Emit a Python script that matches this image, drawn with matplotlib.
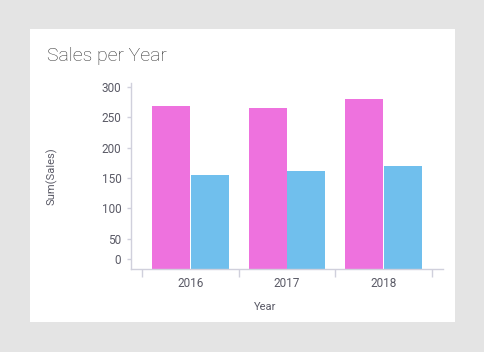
import matplotlib
matplotlib.use("Agg")
import matplotlib.pyplot as plt
import numpy as np
from matplotlib.patches import Rectangle
from matplotlib.transforms import ScaledTranslation

plt.rcParams['font.family'] = ['Roboto', 'DejaVu Sans']

years = ['2016', '2017', '2018']
sales_a = [268, 266, 280]   # pink series
sales_b = [155, 162, 169]   # blue series
yticks = [0, 50, 100, 150, 200, 250, 300]

pink = '#ee72de'
blue = '#70bfed'
axis_col = '#d0d0dc'
text_col = '#5a5a66'

fig = plt.figure(figsize=(4.85, 3.52), dpi=100)
fig.patch.set_facecolor('#e4e4e4')
fig.patches.append(Rectangle((30/485, 1-322/352), 425/485, 293/352,
                             transform=fig.transFigure, facecolor='white',
                             edgecolor='none', zorder=-5))

ax = fig.add_axes([131/485, 1-269/352, 312/485, 186/352])
ax.set_facecolor('none')

x = np.arange(len(years))
w = 0.39
ax.bar(x - 0.2, sales_a, width=w, color=pink, zorder=2)
ax.bar(x + 0.2, sales_b, width=w, color=blue, zorder=2)

ax.set_xlim(-0.614, 2.614)
ax.set_ylim(0, 306.6)

for s in ['top', 'right']:
    ax.spines[s].set_visible(False)
for s in ['left', 'bottom']:
    ax.spines[s].set_color(axis_col)
    ax.spines[s].set_linewidth(1)

ax.set_xticks(x)
ax.set_xticklabels(years)
ax.set_xticks(np.arange(len(years) + 1) - 0.5, minor=True)
ax.tick_params(axis='x', which='major', length=0, pad=6, labelsize=8.5, labelcolor=text_col)
ax.tick_params(axis='x', which='minor', length=6, width=1, color=axis_col)

ax.set_yticks(yticks)
ax.set_yticklabels([str(v) for v in yticks])
ax.tick_params(axis='y', length=3, width=1, color=axis_col, pad=4, labelsize=8.5, labelcolor=text_col)

# zero label sits a little above the axis line
shift = ScaledTranslation(0, 0.1, fig.dpi_scale_trans)
t0 = ax.yaxis.get_major_ticks()[0]
t0.label1.set_transform(t0.label1.get_transform() + shift)
t0.tick1line.set_transform(t0.tick1line.get_transform() + shift)

ax.set_ylabel('Sum(Sales)', fontsize=8, color=text_col)
ax.yaxis.set_label_coords(-0.235, 0.5)
ax.set_xlabel('Year', fontsize=8, color=text_col)
ax.xaxis.set_label_coords(0.43, -0.175)

fig.text(47/485, 1-56/352, 'Sales per Year', fontsize=14, color='#333333',
         fontweight='light', ha='left', va='center')

fig.savefig('out.png', dpi=100, facecolor=fig.get_facecolor())
